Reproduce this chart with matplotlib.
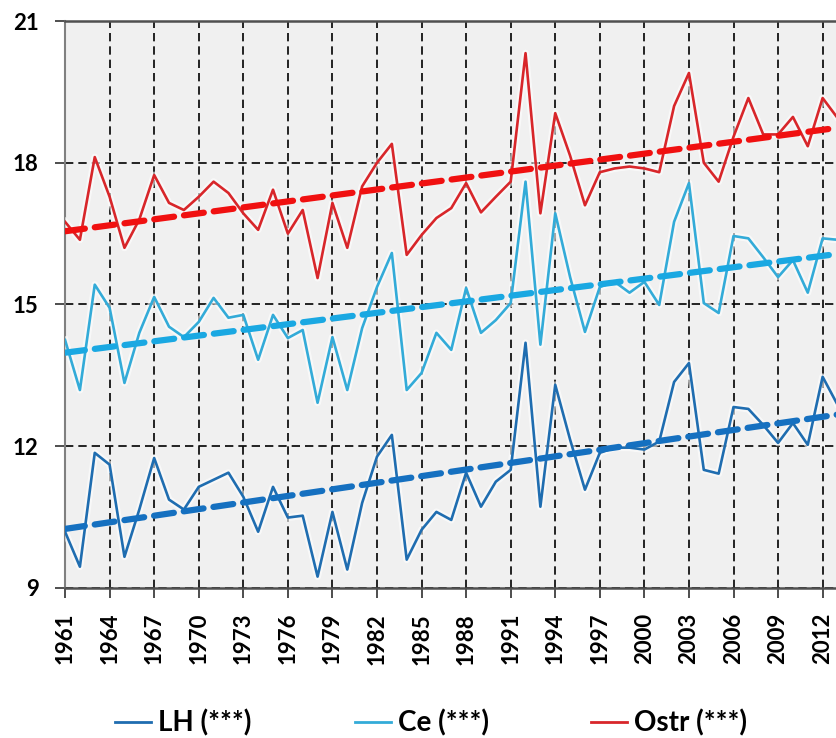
import numpy as np
import matplotlib
matplotlib.use('Agg')
import matplotlib.pyplot as plt
import matplotlib.patheffects as pe
from matplotlib.lines import Line2D

plt.rcParams['font.family'] = ['Lato', 'DejaVu Sans']
plt.rcParams['font.weight'] = 'bold'

### Daten ###
jahre = np.arange(1961, 2014)

ostr = [16.75, 16.37, 18.12, 17.28, 16.2, 16.8, 17.74, 17.15, 17.0, 17.28,
        17.6, 17.36, 16.93, 16.58, 17.43, 16.5, 17.0, 15.56, 17.15, 16.2,
        17.5, 18.0, 18.4, 16.05, 16.47, 16.83, 17.04, 17.57, 16.95, 17.28,
        17.6, 20.32, 16.93, 19.05, 18.15, 17.1, 17.8, 17.88, 17.92, 17.88,
        17.8, 19.2, 19.9, 18.0, 17.6, 18.55, 19.37, 18.6, 18.6, 18.97,
        18.35, 19.37, 18.95]

ce = [14.25, 13.19, 15.42, 14.93, 13.34, 14.4, 15.16, 14.53, 14.31, 14.63,
      15.14, 14.72, 14.78, 13.83, 14.78, 14.29, 14.46, 12.92, 14.31, 13.19,
      14.5, 15.37, 16.09, 13.19, 13.55, 14.4, 14.04, 15.35, 14.4, 14.67,
      15.03, 17.6, 14.15, 16.93, 15.58, 14.42, 15.37, 15.48, 15.25, 15.48,
      14.99, 16.75, 17.57, 15.03, 14.82, 16.45, 16.4, 16.0, 15.58, 15.94,
      15.25, 16.4, 16.37]

lh = [10.19, 9.45, 11.86, 11.61, 9.66, 10.66, 11.75, 10.87, 10.66, 11.14,
      11.29, 11.44, 10.93, 10.19, 11.14, 10.49, 10.53, 9.24, 10.61, 9.39,
      10.8, 11.78, 12.24, 9.6, 10.23, 10.61, 10.44, 11.44, 10.72, 11.25,
      11.5, 14.19, 10.72, 13.3, 12.14, 11.08, 11.86, 11.97, 11.97, 11.93,
      12.1, 13.36, 13.76, 11.5, 11.42, 12.83, 12.79, 12.45, 12.07, 12.49,
      12.03, 13.47, 12.88]

### lineare Trends (Anfang / Ende) ###
trend_jahre = [1961, 2013]
ostr_trend = [16.55, 18.74]
ce_trend = [13.98, 16.07]
lh_trend = [10.25, 12.67]

labels = ['LH (***)', 'Ce (***)', 'Ostr (***)']

farbe_lh = '#1f6db0'
farbe_ce = '#33abd8'
farbe_ostr = '#d8262a'

fig = plt.figure(figsize=(8.36, 7.38), dpi=100)
ax = fig.add_axes([0.0778, 0.2033, 0.9222, 0.7682])
ax.set_facecolor('#f0f0f0')

glow = [pe.Stroke(linewidth=5, foreground='white', alpha=0.6), pe.Normal()]

ax.plot(jahre, lh, color=farbe_lh, lw=1.9, path_effects=glow, zorder=4)
ax.plot(jahre, ce, color=farbe_ce, lw=1.9, path_effects=glow, zorder=4)
ax.plot(jahre, ostr, color=farbe_ostr, lw=1.9, path_effects=glow, zorder=4)

ax.plot(trend_jahre, lh_trend, color='#1570c0', lw=4.5, dashes=(3.2, 1.6),
        dash_capstyle='round', zorder=5)
ax.plot(trend_jahre, ce_trend, color='#1aa8e2', lw=4.5, dashes=(3.2, 1.6),
        dash_capstyle='round', zorder=5)
ax.plot(trend_jahre, ostr_trend, color='#f01010', lw=4.5, dashes=(3.2, 1.6),
        dash_capstyle='round', zorder=5)

ax.set_xlim(1961, 2012.9)
ax.set_ylim(9, 21)
ax.set_xticks(np.arange(1961, 2013, 3))
ax.set_xticklabels([str(j) for j in np.arange(1961, 2013, 3)], rotation=90)
ax.set_yticks([9, 12, 15, 18, 21])
ax.tick_params(axis='both', direction='out', length=7, width=1.3,
               color='#404040', labelsize=16)
ax.tick_params(axis='x', pad=11)
ax.tick_params(axis='y', pad=12)

ax.grid(True, color='black', linestyle=(0, (5, 3)), linewidth=1.2, zorder=1)
ax.set_axisbelow(True)

for s in ['top', 'bottom']:
    ax.spines[s].set_color('#505050')
    ax.spines[s].set_linewidth(1.8)
ax.spines['left'].set_color('#808080')
ax.spines['left'].set_linewidth(1.5)
ax.spines['right'].set_visible(False)

handles = [Line2D([0], [0], color=farbe_lh, lw=2),
           Line2D([0], [0], color=farbe_ce, lw=2),
           Line2D([0], [0], color=farbe_ostr, lw=2)]
fig.legend(handles, labels, loc='center', bbox_to_anchor=(0.516, 0.02),
           ncol=3, frameon=False, fontsize=20, handlelength=1.3,
           handletextpad=0.25, columnspacing=3.7)

plt.savefig('out.png', dpi=100)
